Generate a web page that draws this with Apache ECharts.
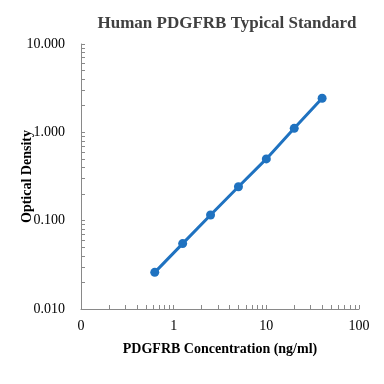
<!DOCTYPE html>
<html><head><meta charset="utf-8">
<script src="https://cdn.jsdelivr.net/npm/echarts@6/dist/echarts.min.js"></script>
<style>html,body{margin:0;padding:0;background:#fff}#c{width:384px;height:384px}</style>
</head><body><div id="c"></div>
<script>
const concentration = [0.625, 1.25, 2.5, 5, 10, 20, 40];
const opticalDensity = [0.026, 0.055, 0.116, 0.242, 0.50, 1.11, 2.43];
const xTickLabels = ["0", "1", "10", "100"];
const yTickLabels = ["0.010", "0.100", "1.000", "10.000"];

function logTicks(lo, hi) {
  const t = [];
  for (let d = lo; d < hi; d *= 10) {
    for (let k = 1; k <= 9; k++) t.push(+(d * k).toPrecision(6));
  }
  t.push(hi);
  return t;
}

const chart = echarts.init(document.getElementById('c'));
const font = "'Liberation Serif', 'Times New Roman', serif";
chart.setOption({
  animation: false,
  title: {
    text: 'Human PDGFRB Typical Standard',
    left: 222, top: 10, textAlign: 'center',
    textStyle: {fontFamily: font, fontSize: 17, fontWeight: 'bold', color: '#404040'}
  },
  grid: {left: 81, right: 25, top: 44, bottom: 75, containLabel: false, outerBoundsMode: 'none'},
  xAxis: {
    type: 'log', min: 0.1, max: 100, logBase: 10,
    name: 'PDGFRB Concentration (ng/ml)', nameLocation: 'middle', nameGap: 33, nameMoveOverlap: false,
    nameTextStyle: {fontFamily: font, fontSize: 14, fontWeight: 'bold', color: '#000'},
    axisLine: {lineStyle: {color: '#898989', width: 1}},
    axisTick: {inside: true, length: 4, lineStyle: {color: '#898989'}, customValues: logTicks(0.1, 100)},
    axisLabel: {fontFamily: font, fontSize: 14, color: '#000', margin: 10,
      formatter: v => xTickLabels[Math.round(Math.log10(v)) + 1]},
    splitLine: {show: false}
  },
  yAxis: {
    type: 'log', min: 0.01, max: 10, logBase: 10,
    name: 'Optical Density', nameLocation: 'middle', nameGap: 47, nameMoveOverlap: false,
    nameTextStyle: {fontFamily: font, fontSize: 14, fontWeight: 'bold', color: '#000'},
    axisLine: {show: true, lineStyle: {color: '#898989', width: 1}},
    axisTick: {show: true, inside: true, length: 4, lineStyle: {color: '#898989'}, customValues: logTicks(0.01, 10)},
    axisLabel: {fontFamily: font, fontSize: 14, color: '#000', margin: 16,
      formatter: v => yTickLabels[Math.round(Math.log10(v)) + 2]},
    splitLine: {show: false}
  },
  series: [{
    type: 'line',
    data: concentration.map((x, i) => [x, opticalDensity[i]]),
    symbol: 'circle', symbolSize: 9,
    lineStyle: {color: '#1f72c0', width: 3},
    itemStyle: {color: '#1f72c0'}
  }]
});
</script></body></html>
